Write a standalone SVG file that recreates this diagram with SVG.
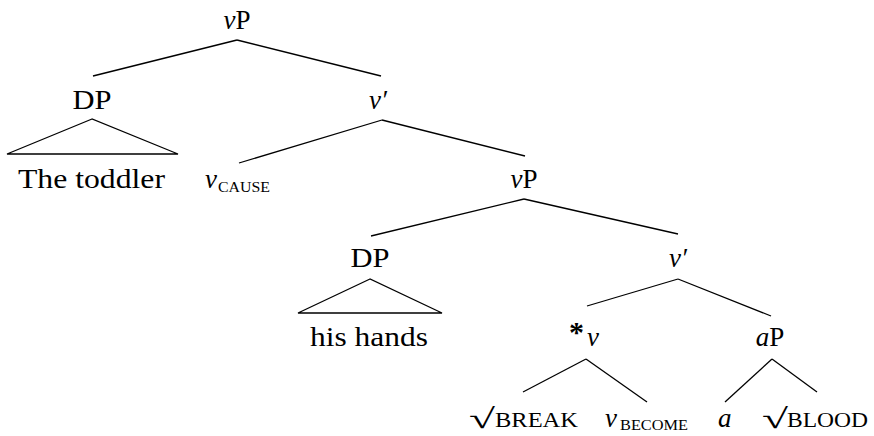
<svg xmlns="http://www.w3.org/2000/svg" width="874" height="436" viewBox="0 0 874 436">
<style>
  .lab { font-size: 27px; }
  .it { font-style: italic; }
  .sc { font-size: 15px; }
  .sc2 { font-size: 21px; }
  .rt { font-size: 28px; }
  .edge { stroke: #000; stroke-width: 1.3; fill: none; }
</style>
<rect width="874" height="436" fill="#fff"/>
<g id="connectors">
  <line class="edge" x1="237" y1="40" x2="93" y2="76"/>
  <line class="edge" x1="237" y1="40" x2="381" y2="76"/>
  <polygon class="edge" points="92,119 7,154 178,154"/>
  <line class="edge" x1="382" y1="120" x2="239" y2="163"/>
  <line class="edge" x1="382" y1="120" x2="525" y2="156"/>
  <line class="edge" x1="524" y1="199" x2="371" y2="236"/>
  <line class="edge" x1="524" y1="199" x2="678" y2="234"/>
  <polygon class="edge" points="370,279 298,313 442,313"/>
  <line class="edge" x1="678" y1="279" x2="587" y2="306"/>
  <line class="edge" x1="678" y1="279" x2="771" y2="316"/>
  <line class="edge" x1="586" y1="359" x2="523" y2="392"/>
  <line class="edge" x1="586" y1="359" x2="647" y2="402"/>
  <line class="edge" x1="772" y1="359" x2="725" y2="402"/>
  <line class="edge" x1="772" y1="359" x2="817" y2="392"/>
</g>
<g font-family="'Liberation Serif', 'DejaVu Serif', serif" fill="#000">
<g id="vP-top"><text class="lab" x="237" y="29" text-anchor="middle"><tspan class="it">v</tspan>P</text></g>
<g id="DP-1"><text class="lab" x="92" y="109" text-anchor="middle" textLength="39" lengthAdjust="spacingAndGlyphs">DP</text></g>
<g id="vbar-1"><text class="lab it" x="378" y="109" text-anchor="middle">v′</text></g>
<g id="the-toddler"><text class="lab" x="18" y="188" textLength="147" lengthAdjust="spacingAndGlyphs">The toddler</text></g>
<g id="v-cause"><text class="lab it" x="205" y="188">v</text><text class="sc" x="218" y="192" textLength="52" lengthAdjust="spacingAndGlyphs">CAUSE</text></g>
<g id="vP-2"><text class="lab" x="524" y="188" text-anchor="middle"><tspan class="it">v</tspan>P</text></g>
<g id="DP-2"><text class="lab" x="370" y="267" text-anchor="middle" textLength="39" lengthAdjust="spacingAndGlyphs">DP</text></g>
<g id="his-hands"><text class="lab" x="310" y="346" textLength="118" lengthAdjust="spacingAndGlyphs">his hands</text></g>
<g id="vbar-2"><text class="lab it" x="678" y="267" text-anchor="middle">v′</text></g>
<g id="star-v"><text x="569" y="342" font-size="30" font-weight="bold">*</text><text class="lab it" x="587" y="346">v</text></g>
<g id="aP"><text class="lab" x="770" y="346" text-anchor="middle"><tspan class="it">a</tspan>P</text></g>
<g id="break"><text class="rt" x="469" y="428" textLength="26" lengthAdjust="spacingAndGlyphs">√</text><text class="sc2" x="495" y="427" textLength="83" lengthAdjust="spacingAndGlyphs">BREAK</text></g>
<g id="v-become"><text class="lab it" x="605" y="427">v</text><text class="sc" x="620" y="430" textLength="68" lengthAdjust="spacingAndGlyphs">BECOME</text></g>
<g id="a"><text class="lab it" x="718" y="427">a</text></g>
<g id="blood"><text class="rt" x="762" y="428" textLength="26" lengthAdjust="spacingAndGlyphs">√</text><text class="sc2" x="787" y="427" textLength="81" lengthAdjust="spacingAndGlyphs">BLOOD</text></g>
</g>
</svg>
